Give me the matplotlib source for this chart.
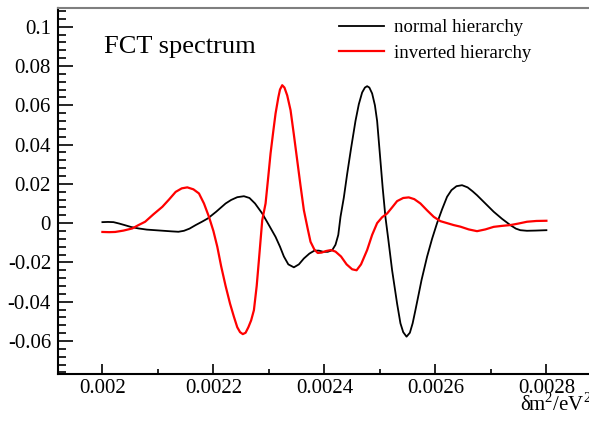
import matplotlib
matplotlib.use('Agg')
import matplotlib.pyplot as plt
from matplotlib.ticker import MultipleLocator, FuncFormatter

plt.rcParams['font.family'] = ['Liberation Serif', 'DejaVu Serif']
plt.rcParams['mathtext.fontset'] = 'custom'
plt.rcParams['mathtext.rm'] = 'Liberation Serif'
plt.rcParams['axes.unicode_minus'] = False

# normal hierarchy (dm2 in eV^2)
dm2_normal = [0.002000, 0.002010, 0.002020, 0.002030, 0.002040, 0.002052, 0.002065,
              0.002080, 0.002095, 0.002110, 0.002125, 0.002137, 0.002147, 0.002157,
              0.002168, 0.002180, 0.002190, 0.002205, 0.002222, 0.002232, 0.002243,
              0.002255, 0.002265, 0.002275, 0.002288, 0.002300, 0.002312, 0.002320,
              0.002327, 0.002335, 0.002345, 0.002354, 0.002363, 0.002373, 0.002382,
              0.002390, 0.002398, 0.002406, 0.002414, 0.002420, 0.002425, 0.002429,
              0.002435, 0.002441, 0.002448, 0.002456, 0.002462, 0.002468, 0.002473,
              0.002477, 0.002481, 0.002486, 0.002491, 0.002495, 0.002500, 0.002505,
              0.002510, 0.002515, 0.002522, 0.002531, 0.002537, 0.002542, 0.002548,
              0.002554, 0.002559, 0.002564, 0.002570, 0.002575, 0.002585, 0.002594,
              0.002603, 0.002612, 0.002621, 0.002629, 0.002638, 0.002648, 0.002658,
              0.002667, 0.002675, 0.002690, 0.002705, 0.002720, 0.002735, 0.002745,
              0.002753, 0.002765, 0.002780, 0.002800]
fct_normal = [0.0005, 0.0006, 0.0005, -0.0002, -0.0010, -0.0020, -0.0027,
              -0.0033, -0.0036, -0.0039, -0.0042, -0.0044, -0.0039, -0.0028,
              -0.0010, 0.0008, 0.0024, 0.0058, 0.0100, 0.0118, 0.0132,
              0.0137, 0.0128, 0.0100, 0.0049, -0.0010, -0.0070, -0.0120,
              -0.0170, -0.0210, -0.0225, -0.0210, -0.0180, -0.0155, -0.0140,
              -0.0140, -0.0146, -0.0146, -0.0138, -0.0110, -0.0060, 0.0032,
              0.0130, 0.0250, 0.0380, 0.0520, 0.0605, 0.0665, 0.0690,
              0.0697, 0.0690, 0.0660, 0.0600, 0.0520, 0.0350, 0.0180,
              0.0030, -0.0080, -0.0240, -0.0410, -0.0510, -0.0555, -0.0578,
              -0.0558, -0.0510, -0.0443, -0.0360, -0.0290, -0.0171, -0.0080,
              0.0000, 0.0070, 0.0134, 0.0168, 0.0188, 0.0193, 0.0182,
              0.0162, 0.0142, 0.0100, 0.0058, 0.0022, -0.0010, -0.0028,
              -0.0036, -0.0039, -0.0038, -0.0036]

# inverted hierarchy
dm2_inverted = [0.002000, 0.002012, 0.002023, 0.002038, 0.002054, 0.002065, 0.002077,
                0.002092, 0.002108, 0.002120, 0.002132, 0.002143, 0.002153, 0.002164,
                0.002174, 0.002183, 0.002192, 0.002200, 0.002207, 0.002214, 0.002222,
                0.002230, 0.002237, 0.002243, 0.002248, 0.002253, 0.002258, 0.002263,
                0.002268, 0.002273, 0.002278, 0.002282, 0.002288, 0.002294, 0.002299,
                0.002303, 0.002308, 0.002312, 0.002317, 0.002320, 0.002324, 0.002328,
                0.002333, 0.002339, 0.002345, 0.002351, 0.002357, 0.002363, 0.002370,
                0.002375, 0.002382, 0.002388, 0.002395, 0.002403, 0.002412, 0.002420,
                0.002430, 0.002440, 0.002450, 0.002458, 0.002466, 0.002477, 0.002486,
                0.002495, 0.002504, 0.002513, 0.002522, 0.002531, 0.002542, 0.002552,
                0.002562, 0.002573, 0.002585, 0.002597, 0.002609, 0.002621, 0.002633,
                0.002645, 0.002660, 0.002675, 0.002690, 0.002705, 0.002720, 0.002735,
                0.002750, 0.002765, 0.002782, 0.002800]
fct_inverted = [-0.0045, -0.0046, -0.0045, -0.0038, -0.0027, -0.0010, 0.0007,
                0.0045, 0.0083, 0.0120, 0.0159, 0.0177, 0.0182, 0.0172,
                0.0151, 0.0100, 0.0032, -0.0040, -0.0120, -0.0220, -0.0320,
                -0.0410, -0.0477, -0.0530, -0.0555, -0.0565, -0.0558, -0.0530,
                -0.0495, -0.0443, -0.0320, -0.0188, 0.0015, 0.0100, 0.0240,
                0.0355, 0.0470, 0.0558, 0.0640, 0.0680, 0.0702, 0.0690,
                0.0650, 0.0575, 0.0450, 0.0320, 0.0190, 0.0066, -0.0030,
                -0.0095, -0.0135, -0.0152, -0.0150, -0.0142, -0.0137, -0.0145,
                -0.0170, -0.0210, -0.0235, -0.0240, -0.0210, -0.0137, -0.0060,
                0.0000, 0.0030, 0.0049, 0.0080, 0.0112, 0.0128, 0.0131,
                0.0122, 0.0100, 0.0065, 0.0032, 0.0010, 0.0000, -0.0010,
                -0.0018, -0.0032, -0.0041, -0.0032, -0.0019, -0.0014, -0.0010,
                -0.0002, 0.0007, 0.0011, 0.0012]

fig = plt.figure(figsize=(5.89, 4.21), dpi=100)
ax = fig.add_axes([58/589, 47/421, 532.8/589, 366/421])

ax.plot(dm2_normal, fct_normal, color='black', lw=1.3, label='normal hierarchy')
ax.plot(dm2_inverted, fct_inverted, color='#ff0000', lw=1.6, label='inverted hierarchy')

ax.set_xlim(0.00192, 0.00288)
ax.set_ylim(-0.0768, 0.1095)

ax.xaxis.set_major_locator(MultipleLocator(0.0002))
ax.xaxis.set_minor_locator(MultipleLocator(0.0001))
ax.yaxis.set_major_locator(MultipleLocator(0.02))
ax.yaxis.set_minor_locator(MultipleLocator(0.004))

def fmt(v, pos):
    if abs(v) < 1e-9:
        return '0'
    return '{:g}'.format(round(v, 6))

ax.xaxis.set_major_formatter(FuncFormatter(fmt))
ax.yaxis.set_major_formatter(FuncFormatter(fmt))

ax.tick_params(axis='both', which='both', direction='in', labelsize=15, width=1.2)
ax.tick_params(axis='x', which='major', length=7.2, pad=3.5)
ax.tick_params(axis='x', which='minor', length=3.6)
ax.tick_params(axis='y', which='major', length=10.8, pad=5)
ax.tick_params(axis='y', which='minor', length=5.4)

for s in ['left', 'bottom']:
    ax.spines[s].set_linewidth(1.5)
ax.spines['right'].set_visible(False)
ax.spines['top'].set_color('#7f7f7f')
ax.spines['top'].set_linewidth(1.5)

fig.text(104/589, 1 - 53/421, 'FCT spectrum', fontsize=19, va='baseline')
fig.text(520/589, 1 - 411/421, 'δm$^{2}$/eV$^{2}$', fontsize=15, va='baseline')

ax.legend(loc='upper left', bbox_to_anchor=(0.527, 0.970), frameon=False,
          fontsize=13.5, handlelength=2.4, handletextpad=0.55, labelspacing=0.46,
          borderpad=0, borderaxespad=0)

fig.savefig('out.png', dpi=100)
